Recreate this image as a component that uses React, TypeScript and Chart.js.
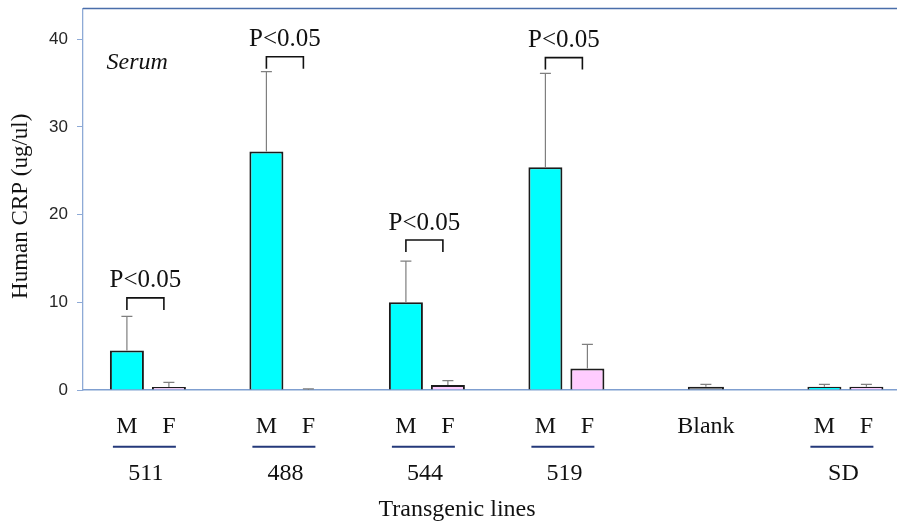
import React, { useEffect, useRef } from "react";
import { Chart, registerables } from "chart.js";

Chart.register(...registerables);

// ---------- data ----------
const groups = ["511", "488", "544", "519", "Blank", "SD"];
const sexLabels = ["M", "F"];
const maleValues = [4.5, 27.2, 10.0, 25.4, null, 0.38];
const femaleValues = [0.34, 0, 0.57, 2.46, null, 0.38];
const blankValues = [null, null, null, null, 0.38, null];
const maleErrTop = [8.4, 36.3, 14.7, 36.1, null, 0.65];
const femaleErrTop = [0.87, 0.12, 1.06, 5.2, null, 0.65];
const blankErrTop = [null, null, null, null, 0.65, null];
const sigBracketTop = [10.5, 38.0, 17.1, 37.9, null, null];
const sigLabel = "P<0.05";
const yTicks = [0, 10, 20, 30, 40];
const yTitle = "Human CRP (ug/ul)";
const xTitle = "Transgenic lines";
const sampleLabel = "Serum";

const SERIF = "'Liberation Serif', 'Times New Roman', serif";
const SANS = "'Liberation Sans', Arial, sans-serif";

const toPoints = (vals: (number | null)[]) => vals.map((v, i) => ({ x: i, y: v }));

const annotations = {
  id: "annotations",
  afterDatasetsDraw(chart: any) {
    const { ctx, chartArea, scales } = chart;
    const xs = scales.x;
    const ys = scales.y;
    const metaM = chart.getDatasetMeta(0);
    const metaF = chart.getDatasetMeta(1);
    const metaB = chart.getDatasetMeta(2);
    ctx.save();

    // top frame line
    ctx.strokeStyle = "#4a6eaa";
    ctx.lineWidth = 1.5;
    ctx.beginPath();
    ctx.moveTo(chartArea.left, chartArea.top);
    ctx.lineTo(chartArea.right, chartArea.top);
    ctx.stroke();

    // error bars (upper only)
    const drawErr = (meta: any, vals: (number | null)[], errs: (number | null)[]) => {
      vals.forEach((v, i) => {
        const e = errs[i];
        if (v == null || e == null) return;
        const bx = meta.data[i].x;
        const y0 = ys.getPixelForValue(v);
        const y1 = ys.getPixelForValue(e);
        ctx.strokeStyle = "#7f7f7f";
        ctx.lineWidth = 1.2;
        ctx.beginPath();
        ctx.moveTo(bx, y0);
        ctx.lineTo(bx, y1);
        ctx.moveTo(bx - 5.5, y1);
        ctx.lineTo(bx + 5.5, y1);
        ctx.stroke();
      });
    };
    drawErr(metaM, maleValues, maleErrTop);
    drawErr(metaF, femaleValues, femaleErrTop);
    drawErr(metaB, blankValues, blankErrTop);

    // significance brackets
    sigBracketTop.forEach((t, i) => {
      if (t == null) return;
      const lx = metaM.data[i].x;
      const rx = metaF.data[i].x - 5;
      const ty = ys.getPixelForValue(t);
      ctx.strokeStyle = "#111";
      ctx.lineWidth = 1.6;
      ctx.beginPath();
      ctx.moveTo(lx, ty + 12);
      ctx.lineTo(lx, ty);
      ctx.lineTo(rx, ty);
      ctx.lineTo(rx, ty + 12);
      ctx.stroke();
      ctx.fillStyle = "#111";
      ctx.font = `25px ${SERIF}`;
      ctx.textAlign = "center";
      ctx.textBaseline = "alphabetic";
      ctx.fillText(sigLabel, (lx + rx) / 2, ty - 10.5);
    });

    // sample label
    ctx.fillStyle = "#111";
    ctx.font = `italic 24px ${SERIF}`;
    ctx.textAlign = "left";
    ctx.textBaseline = "alphabetic";
    ctx.fillText(sampleLabel, chartArea.left + 23.5, chartArea.top + 60);

    // category labels under the axis
    const base = chartArea.bottom;
    ctx.font = `24px ${SERIF}`;
    ctx.textAlign = "center";
    groups.forEach((g, i) => {
      const cx = xs.getPixelForValue(i);
      if (maleValues[i] == null && femaleValues[i] == null) {
        const bx = metaB.data[i].x;
        ctx.fillStyle = "#111";
        ctx.fillText(g, bx, base + 43);
        return;
      }
      const mx = metaM.data[i].x;
      const fx = metaF.data[i].x;
      ctx.fillStyle = "#111";
      ctx.fillText(sexLabels[0], mx, base + 43);
      ctx.fillText(sexLabels[1], fx, base + 43);
      ctx.strokeStyle = "#24397a";
      ctx.lineWidth = 2;
      ctx.beginPath();
      ctx.moveTo(mx - 14, base + 56.7);
      ctx.lineTo(fx + 7, base + 56.7);
      ctx.stroke();
      ctx.fillText(g, cx - 2, base + 90);
    });

    // axis titles
    ctx.fillStyle = "#111";
    ctx.font = `24px ${SERIF}`;
    ctx.textAlign = "center";
    ctx.textBaseline = "alphabetic";
    ctx.fillText(xTitle, chartArea.left + 374, base + 126);

    ctx.save();
    ctx.translate(20.5, (chartArea.top + chartArea.bottom) / 2 + 7);
    ctx.rotate(-Math.PI / 2);
    ctx.font = `23px ${SERIF}`;
    ctx.textBaseline = "middle";
    ctx.fillText(yTitle, 0, 0);
    ctx.restore();

    ctx.restore();
  },
};

export default function App() {
  const canvasRef = useRef<HTMLCanvasElement | null>(null);

  useEffect(() => {
    if (!canvasRef.current) return;
    const barCommon = {
      borderColor: "#1c1c1c",
      borderWidth: 2,
      skipNull: true,
      categoryPercentage: 0.602,
    };
    const chart = new Chart(canvasRef.current, {
      type: "bar",
      data: {
        datasets: [
          { ...barCommon, label: "M", data: toPoints(maleValues) as any, backgroundColor: "#00ffff", barPercentage: 0.81 },
          { ...barCommon, label: "F", data: toPoints(femaleValues) as any, backgroundColor: "#ffccff", barPercentage: 0.81 },
          { ...barCommon, label: "Blank", data: toPoints(blankValues) as any, backgroundColor: "#7f7f7f", barPercentage: 0.43 },
        ],
      },
      options: {
        animation: false,
        responsive: true,
        maintainAspectRatio: false,
        layout: { padding: { top: 8.5, left: 0, right: 0, bottom: 0 } },
        plugins: { legend: { display: false }, tooltip: { enabled: false } },
        scales: {
          x: {
            type: "linear",
            offset: false,
            min: -0.4652,
            max: 5.3699,
            ticks: { display: false, stepSize: 1, includeBounds: false },
            grid: { display: false, offset: false },
            border: { display: true, color: "#7f9fd0", width: 1.5 },
            afterFit: (s: any) => {
              s.height = 133;
              s.paddingLeft = 0;
              s.paddingRight = 0;
            },
          },
          y: {
            min: 0,
            max: 43.5,
            afterBuildTicks: (s: any) => {
              s.ticks = yTicks.map((v) => ({ value: v }));
            },
            ticks: {
              color: "#262626",
              font: { family: SANS, size: 17 },
              padding: 9,
            },
            grid: {
              display: true,
              drawOnChartArea: false,
              drawTicks: true,
              tickLength: 6,
              color: "#8eaad6",
            },
            border: { display: true, color: "#8eaad6", width: 1.3 },
            afterFit: (s: any) => {
              s.width = 83;
              s.paddingTop = 0;
              s.paddingBottom = 0;
            },
          },
        },
      },
      plugins: [annotations],
    });
    return () => chart.destroy();
  }, []);

  return (
    <div style={{ position: "fixed", left: 0, top: 0, width: 897, height: 523, background: "#fff" }}>
      <canvas ref={canvasRef} />
    </div>
  );
}
